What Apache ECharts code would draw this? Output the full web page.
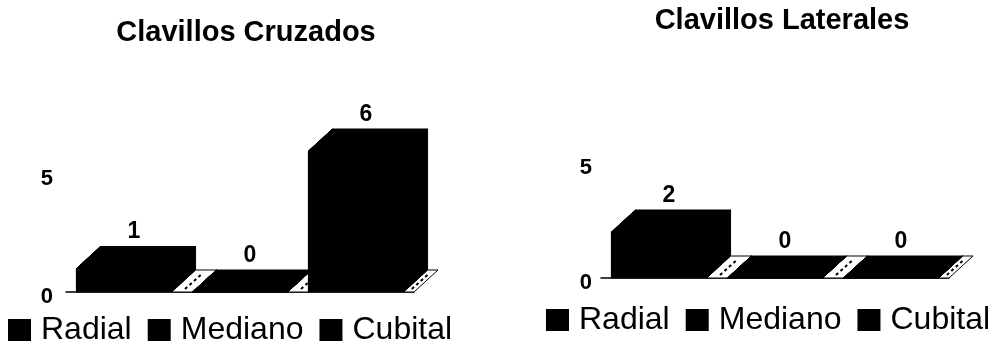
<!DOCTYPE html>
<html>
<head>
<meta charset="utf-8">
<title>Clavillos</title>
<script src="https://cdn.jsdelivr.net/npm/echarts@6/dist/echarts.min.js"></script>
<style>
html,body{margin:0;padding:0;background:#fff}
#chart{width:995px;height:345px}
</style>
</head>
<body>
<div id="chart"></div>
<script>
var categories = ['Radial', 'Mediano', 'Cubital'];
var cruzados = [1, 0, 6];
var laterales = [2, 0, 0];
var yTicks = [0, 5];

var myChart = echarts.init(document.getElementById('chart'));
var DX = 24, DY = 22;
var FONT = '"Liberation Sans", Arial, sans-serif';

// barra 3D estilo Excel: suelo, frente, techo, lado
function renderBar(params, api) {
    var idx = api.value(0), val = api.value(1);
    var base = api.coord([idx, 0]);
    var top = api.coord([idx, val]);
    var w = api.size([1, 0])[0];
    var bw = w * 0.82;
    var x0 = base[0] - bw / 2, x1 = base[0] + bw / 2;
    var x2 = base[0] + w / 2;
    var xEnd = idx === categories.length - 1 ? x2 : x2 + (x2 - x1);
    var xMid = (x1 + xEnd) / 2;
    var y0 = base[1], y1 = top[1];
    var black = {fill: '#000', stroke: '#000', lineWidth: 1};
    var kids = [
        // suelo blanco con rayado entre barras
        {type: 'polygon', shape: {points: [[x1, y0], [xEnd, y0], [xEnd + DX, y0 - DY], [x1 + DX, y0 - DY]]},
            style: {fill: '#fff', stroke: '#000', lineWidth: 1}},
        {type: 'line', shape: {x1: xMid + 3, y1: y0 - 3, x2: xMid + DX - 3, y2: y0 - DY + 3}, style: {stroke: '#000', lineWidth: 2, lineDash: [3, 3]}},
        {type: 'polygon', shape: {points: [[x0, y0], [x0 + DX, y0 - DY], [x0 + DX, y1 - DY], [x0, y1]]}, style: black},
        {type: 'polygon', shape: {points: [[x1, y0], [x1 + DX, y0 - DY], [x1 + DX, y1 - DY], [x1, y1]]}, style: black},
        {type: 'polygon', shape: {points: [[x0, y1], [x0 + DX, y1 - DY], [x1 + DX, y1 - DY], [x1, y1]]}, style: black},
        {type: 'rect', shape: {x: x0, y: y1, width: bw, height: y0 - y1}, style: black},
        {type: 'text', style: {text: String(val), x: base[0] + 10, y: y1 - DY - 3, align: 'center', verticalAlign: 'bottom',
            font: 'bold 23px ' + FONT, fill: '#000'}}
    ];
    return {type: 'group', children: kids};
}

function makeSeries(values, axisIndex) {
    return categories.map(function (name, i) {
        return {
            name: name,
            type: 'custom',
            xAxisIndex: axisIndex,
            yAxisIndex: axisIndex,
            itemStyle: {color: '#000'},
            renderItem: renderBar,
            encode: {x: 0, y: 1},
            clip: false,
            data: [[i, values[i]]]
        };
    });
}

function makeY(index, margin) {
    return {
        gridIndex: index, type: 'value', min: yTicks[0], max: yTicks[1] * 2, interval: yTicks[1],
        splitLine: {show: false}, axisLine: {show: false}, axisTick: {show: false},
        axisLabel: {showMaxLabel: false, color: '#000', fontFamily: FONT, fontWeight: 'bold', fontSize: 22, margin: margin,
            verticalAlign: 'top', lineHeight: 9}
    };
}

function makeX(index) {
    return {
        gridIndex: index, type: 'category', data: categories,
        axisLine: {lineStyle: {color: '#000', width: 1.5}}, axisTick: {show: false}, axisLabel: {show: false}
    };
}

function makeLegend(left, top) {
    return {
        left: left, top: top, padding: 0, icon: 'rect', itemWidth: 23, itemHeight: 22, itemGap: 16,
        data: categories,
        textStyle: {color: '#000', fontFamily: FONT, fontSize: 32, padding: [0, 0, 0, 5]}
    };
}

myChart.setOption({
    animation: false,
    backgroundColor: '#fff',
    title: [
        {text: 'Clavillos Cruzados', left: 241, top: 13, textAlign: 'center',
            textStyle: {color: '#000', fontFamily: FONT, fontWeight: 'bold', fontSize: 29}},
        {text: 'Clavillos Laterales', left: 777, top: 1, textAlign: 'center',
            textStyle: {color: '#000', fontFamily: FONT, fontWeight: 'bold', fontSize: 29}}
    ],
    grid: [
        {left: 66, width: 348, top: 57, height: 235},
        {left: 601, width: 348, top: 48, height: 230}
    ],
    xAxis: [makeX(0), makeX(1)],
    yAxis: [makeY(0, 13), makeY(1, 9)],
    legend: [makeLegend(8, 314), makeLegend(546, 304)],
    series: makeSeries(cruzados, 0).concat(makeSeries(laterales, 1))
});
</script>
</body>
</html>
